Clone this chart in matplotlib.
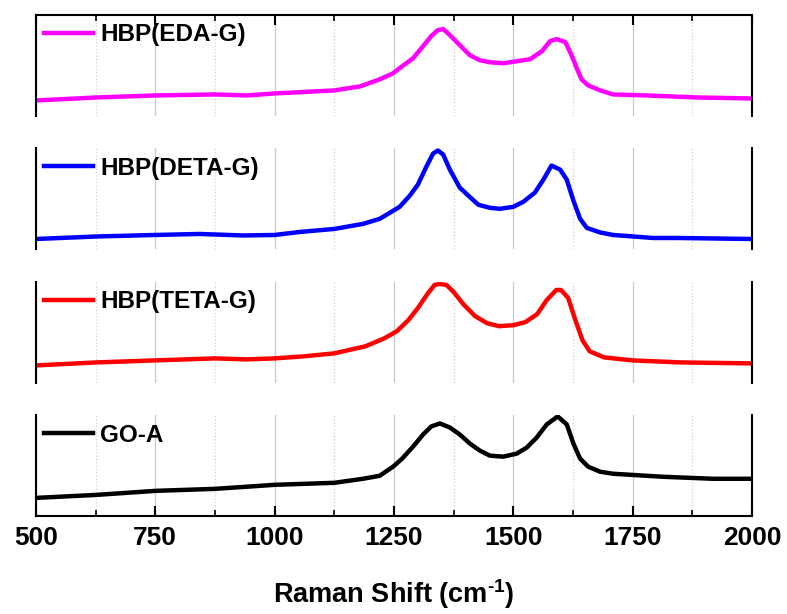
import numpy as np
import matplotlib.pyplot as plt
from matplotlib.ticker import MultipleLocator

plt.rcParams['font.family'] = ['Liberation Sans', 'DejaVu Sans']
plt.rcParams['font.weight'] = 'bold'
plt.rcParams['mathtext.fontset'] = 'custom'
plt.rcParams['mathtext.bf'] = 'Liberation Sans:bold'
plt.rcParams['mathtext.rm'] = 'Liberation Sans:bold'
plt.rcParams['mathtext.default'] = 'bf'

# Raman spectra, normalised intensity (a.u.)
eda_x = [500, 627, 750, 875, 942, 1000, 1125, 1179, 1220, 1248, 1267, 1290, 1311,
         1328, 1342, 1353, 1367, 1388, 1409, 1430, 1451, 1479, 1507, 1535, 1560,
         1577, 1591, 1609, 1622, 1633, 1643, 1657, 1682, 1709, 1780, 1885, 2000]
eda_y = [0.15, 0.18, 0.20, 0.21, 0.20, 0.22, 0.25, 0.29, 0.36, 0.42, 0.49, 0.57, 0.69,
         0.79, 0.85, 0.86, 0.80, 0.70, 0.60, 0.55, 0.53, 0.52, 0.54, 0.56, 0.64,
         0.74, 0.76, 0.73, 0.60, 0.47, 0.36, 0.30, 0.25, 0.21, 0.20, 0.18, 0.17]

deta_x = [500, 627, 750, 843, 934, 1000, 1053, 1125, 1185, 1220, 1241, 1262, 1283,
          1300, 1318, 1332, 1342, 1353, 1367, 1388, 1406, 1427, 1451, 1472, 1500,
          1521, 1545, 1563, 1580, 1598, 1612, 1626, 1640, 1654, 1682, 1709, 1751,
          1793, 1843, 2000]
deta_y = [0.10, 0.125, 0.14, 0.15, 0.135, 0.14, 0.17, 0.20, 0.25, 0.30, 0.36, 0.42, 0.53,
          0.64, 0.82, 0.95, 0.98, 0.94, 0.79, 0.61, 0.53, 0.44, 0.41, 0.40, 0.42,
          0.47, 0.56, 0.69, 0.83, 0.79, 0.69, 0.48, 0.30, 0.21, 0.165, 0.14, 0.125,
          0.11, 0.11, 0.10]

teta_x = [500, 627, 750, 875, 940, 1000, 1060, 1125, 1190, 1230, 1256, 1280, 1300,
          1320, 1335, 1345, 1360, 1375, 1395, 1420, 1445, 1470, 1500, 1525, 1550,
          1570, 1590, 1600, 1615, 1630, 1645, 1660, 1690, 1750, 1850, 2000]
teta_y = [0.17, 0.20, 0.22, 0.24, 0.23, 0.24, 0.26, 0.29, 0.36, 0.44, 0.51, 0.62, 0.74,
          0.88, 0.97, 0.98, 0.97, 0.90, 0.78, 0.66, 0.59, 0.56, 0.57, 0.60, 0.68,
          0.82, 0.92, 0.92, 0.84, 0.62, 0.42, 0.31, 0.25, 0.22, 0.20, 0.19]

goa_x = [500, 627, 750, 875, 1000, 1125, 1185, 1220, 1248, 1267, 1290, 1311, 1328,
         1346, 1367, 1388, 1409, 1430, 1451, 1479, 1507, 1528, 1549, 1570, 1593,
         1612, 1626, 1640, 1657, 1682, 1709, 1814, 1919, 2000]
goa_y = [0.18, 0.21, 0.25, 0.27, 0.31, 0.33, 0.37, 0.40, 0.49, 0.57, 0.69, 0.81, 0.89,
         0.92, 0.88, 0.81, 0.72, 0.65, 0.60, 0.59, 0.62, 0.68, 0.78, 0.91, 0.99,
         0.91, 0.72, 0.57, 0.49, 0.44, 0.42, 0.39, 0.37, 0.37]

series = [
    ('HBP(EDA-G)', eda_x, eda_y, '#ff00ff'),
    ('HBP(DETA-G)', deta_x, deta_y, '#0000ff'),
    ('HBP(TETA-G)', teta_x, teta_y, '#ff0000'),
    ('GO-A', goa_x, goa_y, 'black'),
]

fig, axes = plt.subplots(4, 1, figsize=(7.87, 6.14), dpi=100, sharex=True)
fig.subplots_adjust(left=0.0457, right=0.9555, top=0.9756, bottom=0.1596, hspace=0.327)

for i, (ax, (name, xs, ys, col)) in enumerate(zip(axes, series)):
    ax.plot(xs, ys, color=col, lw=3.2, label=name, solid_joinstyle='round')
    ax.set_xlim(500, 2000)
    ax.set_ylim(0, 1)
    ax.set_yticks([])
    ax.xaxis.set_major_locator(MultipleLocator(250))
    ax.xaxis.set_minor_locator(MultipleLocator(125))
    ax.grid(True, which='major', axis='x', color='#c8c8c8', lw=0.9, ls='-')
    ax.grid(True, which='minor', axis='x', color='#d0d0d0', lw=0.9, ls=':')
    for s in ax.spines.values():
        s.set_linewidth(1.5)
    ax.spines['top'].set_visible(i == 0)
    ax.spines['bottom'].set_visible(i == 3)
    ax.tick_params(axis='x', which='major', direction='in', length=7, width=1.5,
                   top=(i == 0), bottom=(i == 3), labelsize=19, pad=7)
    ax.tick_params(axis='x', which='minor', direction='in', length=4, width=1.2,
                   top=(i == 0), bottom=(i == 3))
    ax.tick_params(axis='y', left=False, right=False)
    if i < 3:
        ax.tick_params(axis='x', which='both', labelbottom=False)
    leg = ax.legend(loc='upper left', frameon=False, fontsize=17.5, handlelength=2.0,
                    handletextpad=0.3, borderaxespad=0.05, borderpad=0.3)
    for t in leg.get_texts():
        t.set_fontweight('bold')

axes[3].set_xlabel(r'Raman Shift (cm$^{\text{-1}}$)', fontsize=19.5, fontweight='bold',
                   labelpad=20)

fig.savefig('out.png', dpi=100)
